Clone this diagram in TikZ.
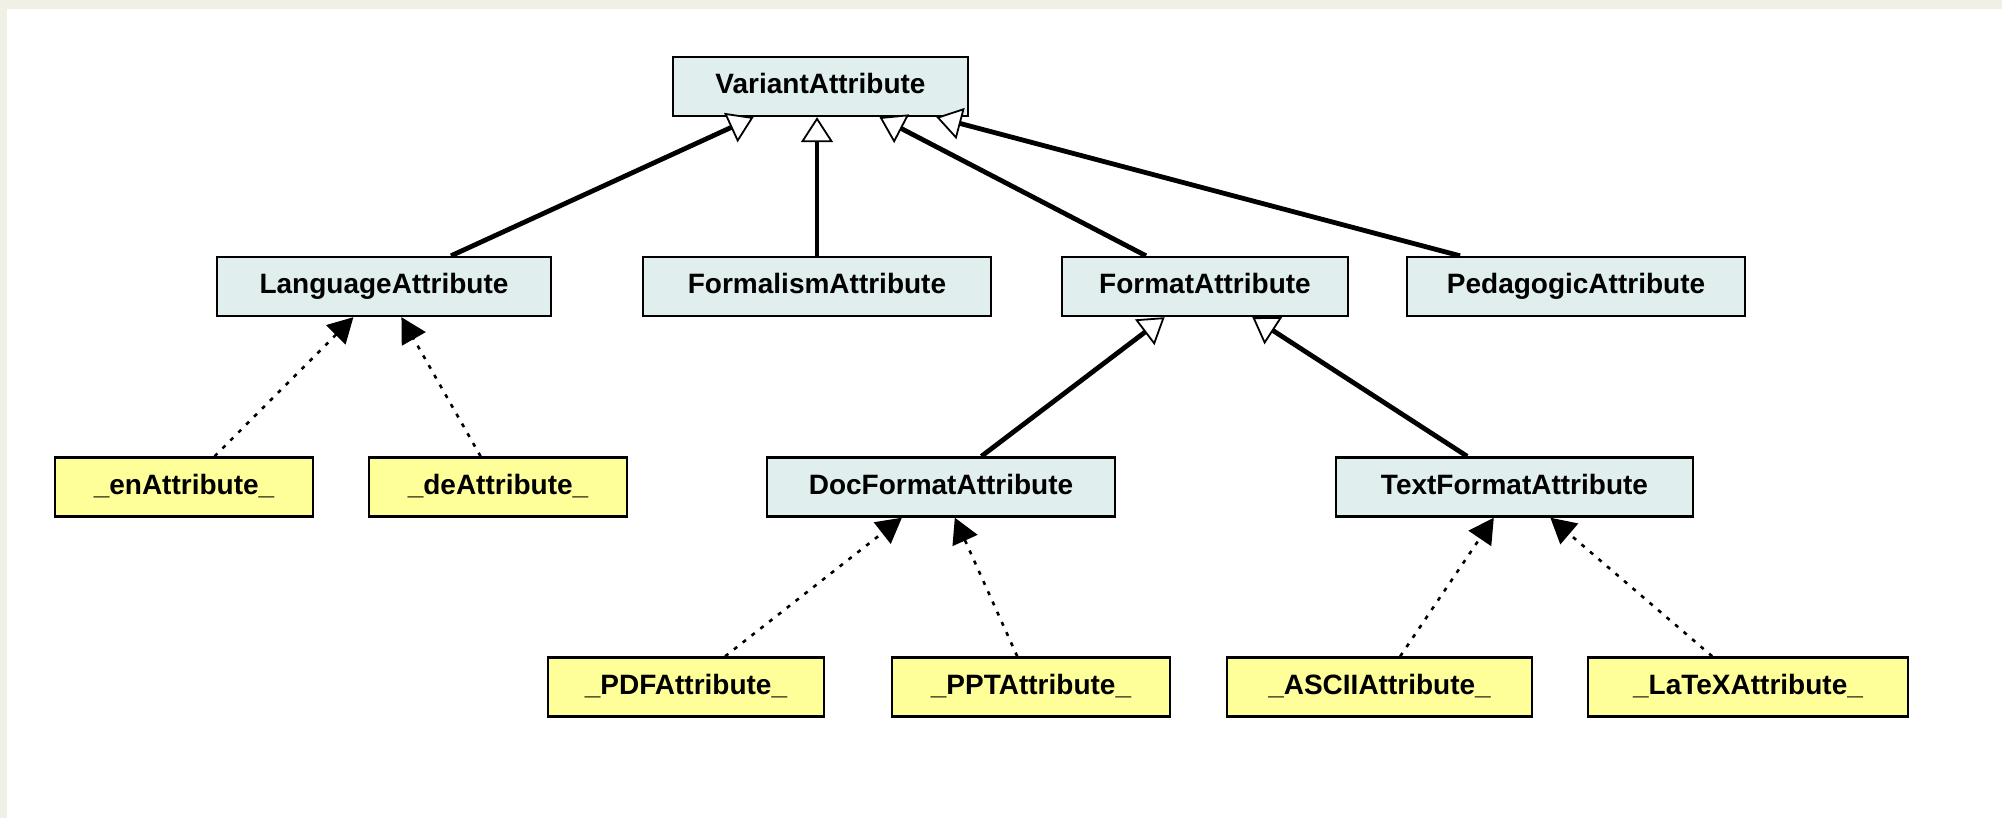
\documentclass[tikz,border=0pt]{standalone}
\usepackage{fontspec}
\setmainfont{Liberation Sans}
\usetikzlibrary{arrows.meta}
\definecolor{frame}{RGB}{240,240,228}
\definecolor{classfill}{RGB}{224,238,238}
\definecolor{instfill}{RGB}{255,255,153}
\tikzset{
  box/.style={draw=black, line width=1.2pt, inner sep=0pt, minimum height=29.5pt,
    text height=10pt, text depth=3pt,
    font=\fontsize{14pt}{16pt}\selectfont\bfseries},
  cls/.style={box, fill=classfill},
  inst/.style={box, fill=instfill},
  gen/.style={line width=2.4pt,
    -{Triangle[open, fill=white, line width=0.9pt, length=12.5pt, width=16pt]}},
  real/.style={line width=1.3pt, dash pattern=on 2pt off 3.6pt,
    -{Triangle[length=12.5pt, width=13.5pt]}},
}
\begin{document}
\begin{tikzpicture}[x=0.5pt, y=-0.5pt]
  % page background with a light frame on the top and left
  \useasboundingbox (0,0) rectangle (2002,818);
  \fill[frame] (0,0) rectangle (2002,818);
  \fill[white] (7,9) rectangle (2002,818);

  % class hierarchy
  \node[cls, minimum width=147.5pt] (variant)   at (820.5,86.5) {VariantAttribute};
  \node[cls, minimum width=167pt]   (language)  at (384,286.5)  {LanguageAttribute};
  \node[cls, minimum width=174pt]   (formalism) at (817,286.5)  {FormalismAttribute};
  \node[cls, minimum width=143pt]   (format)    at (1205,286.5) {FormatAttribute};
  \node[cls, minimum width=169pt]   (pedagogic) at (1576,286.5) {PedagogicAttribute};
  \node[cls, minimum width=174pt]   (docformat) at (941,487)    {DocFormatAttribute};
  \node[cls, minimum width=178.5pt] (textformat) at (1514.5,487) {TextFormatAttribute};

  % instances
  \node[inst, minimum width=129pt] (en)    at (184,487)    {\_enAttribute\_};
  \node[inst, minimum width=129pt] (de)    at (498,487)    {\_deAttribute\_};
  \node[inst, minimum width=138pt] (pdf)   at (686,687)    {\_PDFAttribute\_};
  \node[inst, minimum width=139pt] (ppt)   at (1031,687)   {\_PPTAttribute\_};
  \node[inst, minimum width=152.5pt] (ascii) at (1379.5,687) {\_ASCIIAttribute\_};
  \node[inst, minimum width=160pt] (latex) at (1748,687)   {\_LaTeXAttribute\_};

  % generalisations
  \draw[gen] (language)   -- (variant);
  \draw[gen] (formalism)  -- (formalism |- variant.south);
  \draw[gen] (format)     -- (variant);
  \draw[gen] (pedagogic)  -- (variant);
  \draw[gen] (docformat)  -- (format);
  \draw[gen] (textformat) -- (format);

  % instance-of links
  \draw[real] (en)    -- (language);
  \draw[real] (de)    -- (language);
  \draw[real] (pdf)   -- (docformat);
  \draw[real] (ppt)   -- (docformat);
  \draw[real] (ascii) -- (textformat);
  \draw[real] (latex) -- (textformat);
\end{tikzpicture}
\end{document}
